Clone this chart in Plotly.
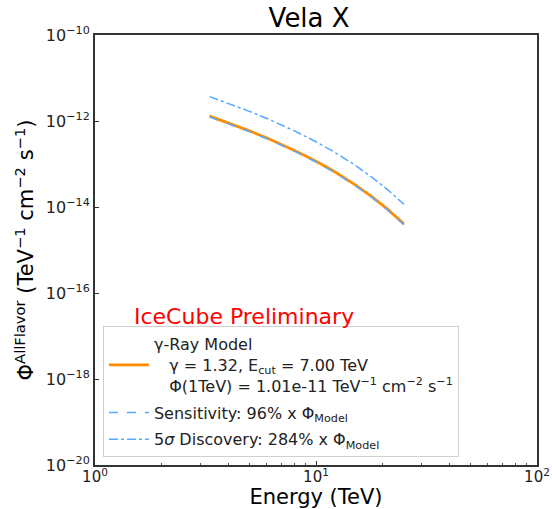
import plotly.graph_objects as go

# Energies (TeV) and model flux
energy = [3.3, 4, 5, 6, 7, 8, 10, 12, 15, 18, 21, 25]
model_flux = [1.30e-12, 9.15e-13, 5.91e-13, 4.02e-13, 2.85e-13, 2.07e-13,
              1.16e-13, 6.85e-14, 3.32e-14, 1.70e-14, 9.04e-15, 4.05e-15]
sens_frac = 0.96
disc_frac = 2.84
sens_flux = [v * sens_frac for v in model_flux]
disc_flux = [v * disc_frac for v in model_flux]

y_tickvals = [1e-20, 1e-18, 1e-16, 1e-14, 1e-12, 1e-10]
y_ticktext = ["10<sup>−20</sup>", "10<sup>−18</sup>", "10<sup>−16</sup>",
              "10<sup>−14</sup>", "10<sup>−12</sup>", "10<sup>−10</sup>"]
x_tickvals = [1, 10, 100]
x_ticktext = ["10<sup>0</sup>", "10<sup>1</sup>", "10<sup>2</sup>"]

FONT = "DejaVu Sans"
blue = "#55aaff"
orange = "#ff8c00"
IND = "\u00a0\u00a0\u00a0"

fig = go.Figure()
fig.add_trace(go.Scatter(
    x=energy, y=model_flux, mode="lines",
    line=dict(color=orange, width=2.8), legendgroup="m",
    name=("γ-Ray Model<br>" + IND + "γ = 1.32, E<sub>cut</sub> = 7.00 TeV<br>" + IND +
          "Φ(1TeV) = 1.01e-11 TeV<sup>−1</sup> cm<sup>−2</sup> s<sup>−1</sup>"),
))
fig.add_trace(go.Scatter(
    x=energy, y=sens_flux, mode="lines", legendgroup="s",
    line=dict(color=blue, width=1.5, dash="dash"),
    name="Sensitivity: 96% x Φ<sub>Model</sub>",
))
fig.add_trace(go.Scatter(
    x=energy, y=disc_flux, mode="lines", legendgroup="d",
    line=dict(color=blue, width=1.5, dash="dashdot"),
    name="5<i>σ</i> Discovery: 284% x Φ<sub>Model</sub>",
))

fig.update_layout(
    width=552, height=509,
    margin=dict(l=95, r=15, t=35, b=44),
    paper_bgcolor="white", plot_bgcolor="white",
    font=dict(family=FONT, color="#222222"),
    title=dict(text="Vela X", x=0.56, xanchor="center", y=0.965, yanchor="middle",
               font=dict(size=26, family=FONT, color="black")),
    showlegend=True,
    legend=dict(x=0.018, y=0.323, xanchor="left", yanchor="top",
                bgcolor="white", bordercolor="#d0d0d0", borderwidth=1,
                font=dict(size=16, family=FONT, color="#222222"),
                tracegroupgap=3, itemwidth=40),
    xaxis=dict(type="log", range=[0, 2], tickvals=x_tickvals, ticktext=x_ticktext,
               automargin=False, ticklabelstandoff=-3,
               showgrid=False, zeroline=False, showline=True, linecolor="#333333",
               linewidth=2, mirror=True, ticks="inside", ticklen=4, tickcolor="#333333",
               minor=dict(ticks="inside", ticklen=2, tickcolor="#555555",
                          tickvals=[2, 3, 4, 5, 6, 7, 8, 9, 20, 30, 40, 50, 60, 70, 80, 90]),
               tickfont=dict(size=15, family=FONT),
               title=dict(text="Energy (TeV)", font=dict(size=21, family=FONT, color="black"),
                          standoff=2)),
    yaxis=dict(type="log", range=[-20, -10], tickvals=y_tickvals, ticktext=y_ticktext,
               automargin=False,
               showgrid=False, zeroline=False, showline=True, linecolor="#333333",
               linewidth=2, mirror=True, ticks="inside", ticklen=4, tickcolor="#333333",
               tickfont=dict(size=16, family=FONT),
               title=dict(text="Φ<sup>AllFlavor</sup> (TeV<sup>−1</sup> cm<sup>−2</sup> s<sup>−1</sup>)",
                          font=dict(size=21, family=FONT, color="black"), standoff=6)),
)

fig.add_annotation(text="IceCube Preliminary", xref="paper", yref="paper",
                   x=0.336, y=0.345, xanchor="center", yanchor="middle", showarrow=False,
                   font=dict(size=22, family=FONT, color="red"))

fig.write_html("out.html")
